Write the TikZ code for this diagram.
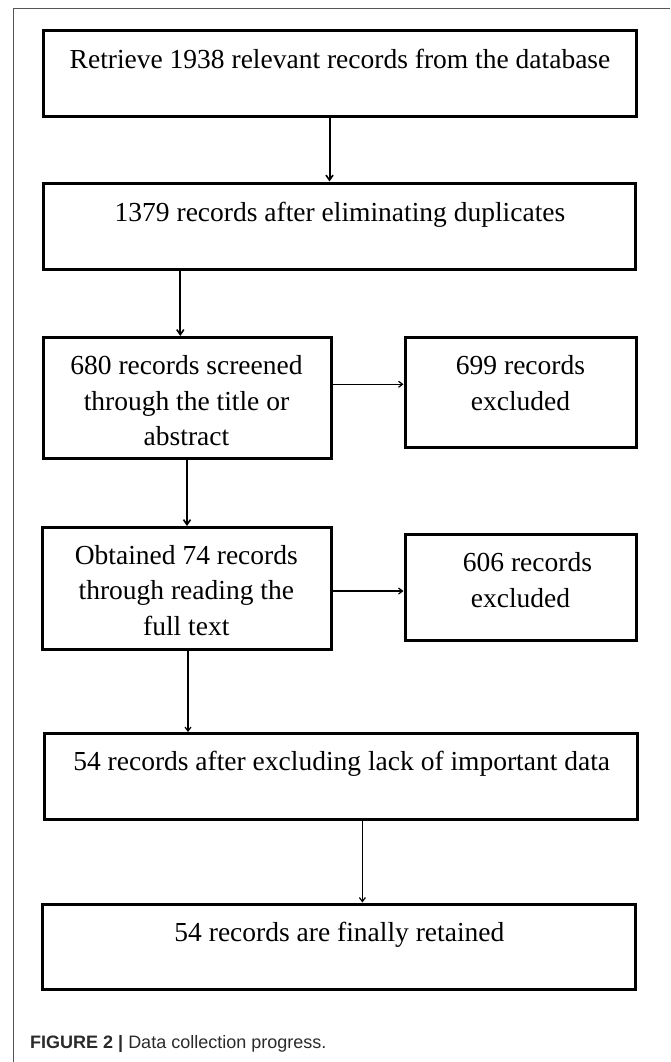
\documentclass[tikz,border=0pt]{standalone}
\usepackage{fontspec}
\setmainfont{Liberation Serif}
\newfontfamily\capfont{Liberation Sans}
\usetikzlibrary{arrows.meta}
\definecolor{framegray}{HTML}{555555}
\definecolor{capgray}{HTML}{2A2A2A}
\tikzset{
  flowbox/.style={draw=black, line width=3pt, rectangle, inner sep=0pt},
  boxtext/.style={anchor=base, inner sep=0pt, font=\fontsize{27.5pt}{35.7pt}\selectfont},
  arr/.style={draw=black, line width=2pt, -{Straight Barb[length=5pt,width=7pt,line width=1.6pt]}},
  thinarr/.style={draw=black, line width=1.2pt, -{Straight Barb[length=4pt,width=6pt,line width=1.2pt]}}
}
\newcommand{\boxat}[5]{% name, x1, y1, x2, y2
  \pgfmathsetmacro{\bw}{#4-#2}\pgfmathsetmacro{\bh}{#5-#3}%
  \pgfmathsetmacro{\bcx}{(#2+#4)/2}\pgfmathsetmacro{\bcy}{(#3+#5)/2}%
  \node[flowbox, minimum width=\bw pt, minimum height=\bh pt] (#1) at (\bcx,\bcy) {};}
\begin{document}
\begin{tikzpicture}[x=1pt,y=-1pt]
\useasboundingbox (0,0) rectangle (670,1062);
% outer frame
\draw[framegray, line width=1pt] (13.5,1062) -- (13.5,9) -- (670,9);
% boxes
\boxat{B1}{43}{31}{636.5}{117}
\boxat{B2}{43}{183}{635.5}{269}
\boxat{B3}{43}{337.5}{331}{458}
\boxat{B4}{405}{337.5}{636.5}{447}
\boxat{B5}{42.5}{527.5}{331}{649.5}
\boxat{B6}{405}{534}{636.5}{640}
\boxat{B7}{44}{733.5}{637}{819.5}
\boxat{B8}{42.5}{904}{635}{989.5}
% texts
\node[boxtext] (T1) at (340,68.5) {Retrieve 1938 relevant records from the database};
\node[boxtext] (T2) at (340,221.7) {1379 records after eliminating duplicates};
\node[boxtext] (T3) at (186.5,374.3) {\begin{tabular}[t]{@{}c@{}}680 records screened\\ through the title or\\ abstract\end{tabular}};
\node[boxtext] (T4) at (520.5,374.3) {\begin{tabular}[t]{@{}c@{}}699 records\\ excluded\end{tabular}};
\node[boxtext] (T5) at (186.3,564) {\begin{tabular}[t]{@{}c@{}}Obtained 74 records\\ through reading the\\ full text\end{tabular}};
\node[boxtext] (T6) at (520.5,571.7) {\begin{tabular}[t]{@{}c@{}}\hspace{14pt}606 records\\ excluded\end{tabular}};
\node[boxtext] (T7) at (341.7,770) {54 records after excluding lack of important data};
\node[boxtext] (T8) at (339.4,941) {54 records are finally retained};
% caption
\node[anchor=base west, inner sep=0pt, text=capgray, font=\capfont\fontsize{18pt}{22pt}\selectfont] (cap) at (30,1048.3) {\textbf{FIGURE 2 |} Data collection progress.};
% connectors
\draw[arr] ([xshift=-10.25pt]B1.south) -- ([xshift=-10.25pt]B1.south |- B2.north);
\draw[arr] ([xshift=-6.7pt]B3.north |- B2.south) -- ([xshift=-6.7pt]B3.north);
\draw[thinarr] ([yshift=13.45pt]B3.east) -- ([yshift=13.45pt]B3.east -| B4.west);
\draw[arr] (B3.south) -- (B3.south |- B5.north);
\draw[thinarr] ([yshift=-2.5pt]B5.east) -- ([yshift=-2.5pt]B5.east -| B6.west);
\draw[thinarr] ([xshift=1.25pt]B5.south) -- ([xshift=1.25pt]B5.south |- B7.north);
\draw[thinarr] ([xshift=21.9pt]B7.south) -- ([xshift=21.9pt]B7.south |- B8.north);
\end{tikzpicture}
\end{document}
